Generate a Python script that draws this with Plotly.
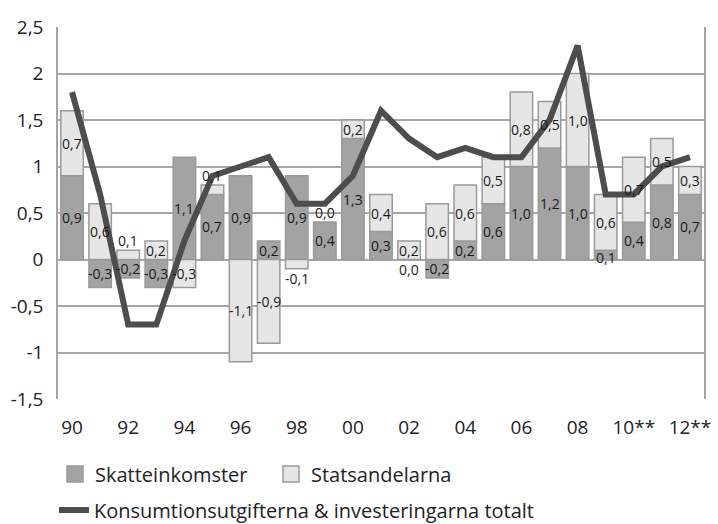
import plotly.graph_objects as go

years = list(range(1990, 2013))
skatteinkomster = [0.9, -0.3, -0.2, -0.3, 1.1, 0.7, 0.9, 0.2, 0.9, 0.4, 1.3, 0.3, 0.0, -0.2, 0.2, 0.6, 1.0, 1.2, 1.0, 0.1, 0.4, 0.8, 0.7]
statsandelarna = [0.7, 0.6, 0.1, 0.2, -0.3, 0.1, -1.1, -0.9, -0.1, 0.0, 0.2, 0.4, 0.2, 0.6, 0.6, 0.5, 0.8, 0.5, 1.0, 0.6, 0.7, 0.5, 0.3]
totalt = [1.8, 0.7, -0.7, -0.7, 0.2, 0.9, 1.0, 1.1, 0.6, 0.6, 0.9, 1.6, 1.3, 1.1, 1.2, 1.1, 1.1, 1.5, 2.3, 0.7, 0.7, 1.0, 1.1]
tick_years = list(range(1990, 2013, 2))
tick_labels = ["90", "92", "94", "96", "98", "00", "02", "04", "06", "08", "10**", "12**"]
y_ticks = [-1.5, -1, -0.5, 0, 0.5, 1, 1.5, 2, 2.5]
y_tick_labels = ["-1,5", "-1", "-0,5", "0", "0,5", "1", "1,5", "2", "2,5"]

FONT = "Open Sans"
DARK = "#a3a3a3"
LIGHT = "#e6e6e6"
EDGE = "#9a9a9a"

fig = go.Figure()
fig.add_trace(go.Bar(x=years, y=skatteinkomster, name="Skatteinkomster",
                     marker=dict(color=DARK, line=dict(color=EDGE, width=1.5)),
                     showlegend=False))
fig.add_trace(go.Bar(x=years, y=statsandelarna, name="Statsandelarna",
                     marker=dict(color=LIGHT, line=dict(color=EDGE, width=1.5)),
                     showlegend=False))
fig.add_trace(go.Scatter(x=years, y=totalt, mode="lines",
                         name="Konsumtionsutgifterna & investeringarna totalt",
                         line=dict(color="#4d4d4d", width=6),
                         legend="legend2"))
# legend-only square swatches for the two bar series
for nm, col in [("Skatteinkomster", DARK), ("Statsandelarna", LIGHT)]:
    fig.add_trace(go.Scatter(x=[None], y=[None], mode="markers", name=nm,
                             marker=dict(symbol="square", size=16, color=col,
                                         line=dict(color=EDGE, width=1.5)),
                             legend="legend", hoverinfo="skip"))


def fmt(v):
    return f"{v:.1f}".replace(".", ",")


annotations = []
for i, yr in enumerate(years):
    a = skatteinkomster[i]
    b = statsandelarna[i]
    ya = a / 2
    shift_a = 0
    if abs(a) < 0.15:
        shift_a = -10 if a == 0 else -3
    annotations.append(dict(x=yr, y=ya, yshift=shift_a, text=fmt(a), showarrow=False,
                            font=dict(family=FONT, size=14, color="#1a1a1a")))
    if b >= 0:
        base = a if a > 0 else 0
    else:
        base = a if a < 0 else 0
    if abs(b) < 0.15:
        yb = base + b
        shift_b = 10 if b >= 0 else -10
    else:
        yb = base + b / 2
        shift_b = 0
    annotations.append(dict(x=yr, y=yb, yshift=shift_b, text=fmt(b), showarrow=False,
                            font=dict(family=FONT, size=14, color="#1a1a1a")))

fig.update_layout(
    width=718, height=524,
    margin=dict(l=58, r=14, t=27, b=125, autoexpand=False),
    barmode="relative",
    bargap=0.2,
    plot_bgcolor="white",
    paper_bgcolor="white",
    font=dict(family=FONT, size=19, color="#222"),
    annotations=annotations,
    legend=dict(orientation="h", x=55 / 718, xref="container", xanchor="left",
                y=1 - 474 / 524, yref="container", yanchor="middle",
                font=dict(family=FONT, size=20, color="#222"),
                entrywidth=171, entrywidthmode="pixels", itemwidth=30,
                traceorder="normal"),
    legend2=dict(orientation="h", x=54 / 718, xref="container", xanchor="left",
                 y=1 - 510 / 524, yref="container", yanchor="middle",
                 font=dict(family=FONT, size=20, color="#222"), itemwidth=30),
)
fig.update_xaxes(range=[1989.5, 2012.5], tickvals=tick_years, ticktext=tick_labels,
                 showgrid=False, zeroline=False, showline=False, automargin=False,
                 ticks="", ticklabelstandoff=15,
                 tickfont=dict(family=FONT, size=19, color="#222"))
fig.update_yaxes(range=[-1.5, 2.5], tickvals=y_ticks, ticktext=y_tick_labels,
                 showgrid=True, gridcolor="#a6a6a6", gridwidth=1.5, automargin=False,
                 zeroline=False, showline=True, linecolor="#a6a6a6", linewidth=1.5,
                 mirror=True, ticks="", ticklabelstandoff=9,
                 tickfont=dict(family=FONT, size=19, color="#222"))

fig.write_html("out.html", config={"displayModeBar": False},
               post_script="document.body.style.margin='0';")
